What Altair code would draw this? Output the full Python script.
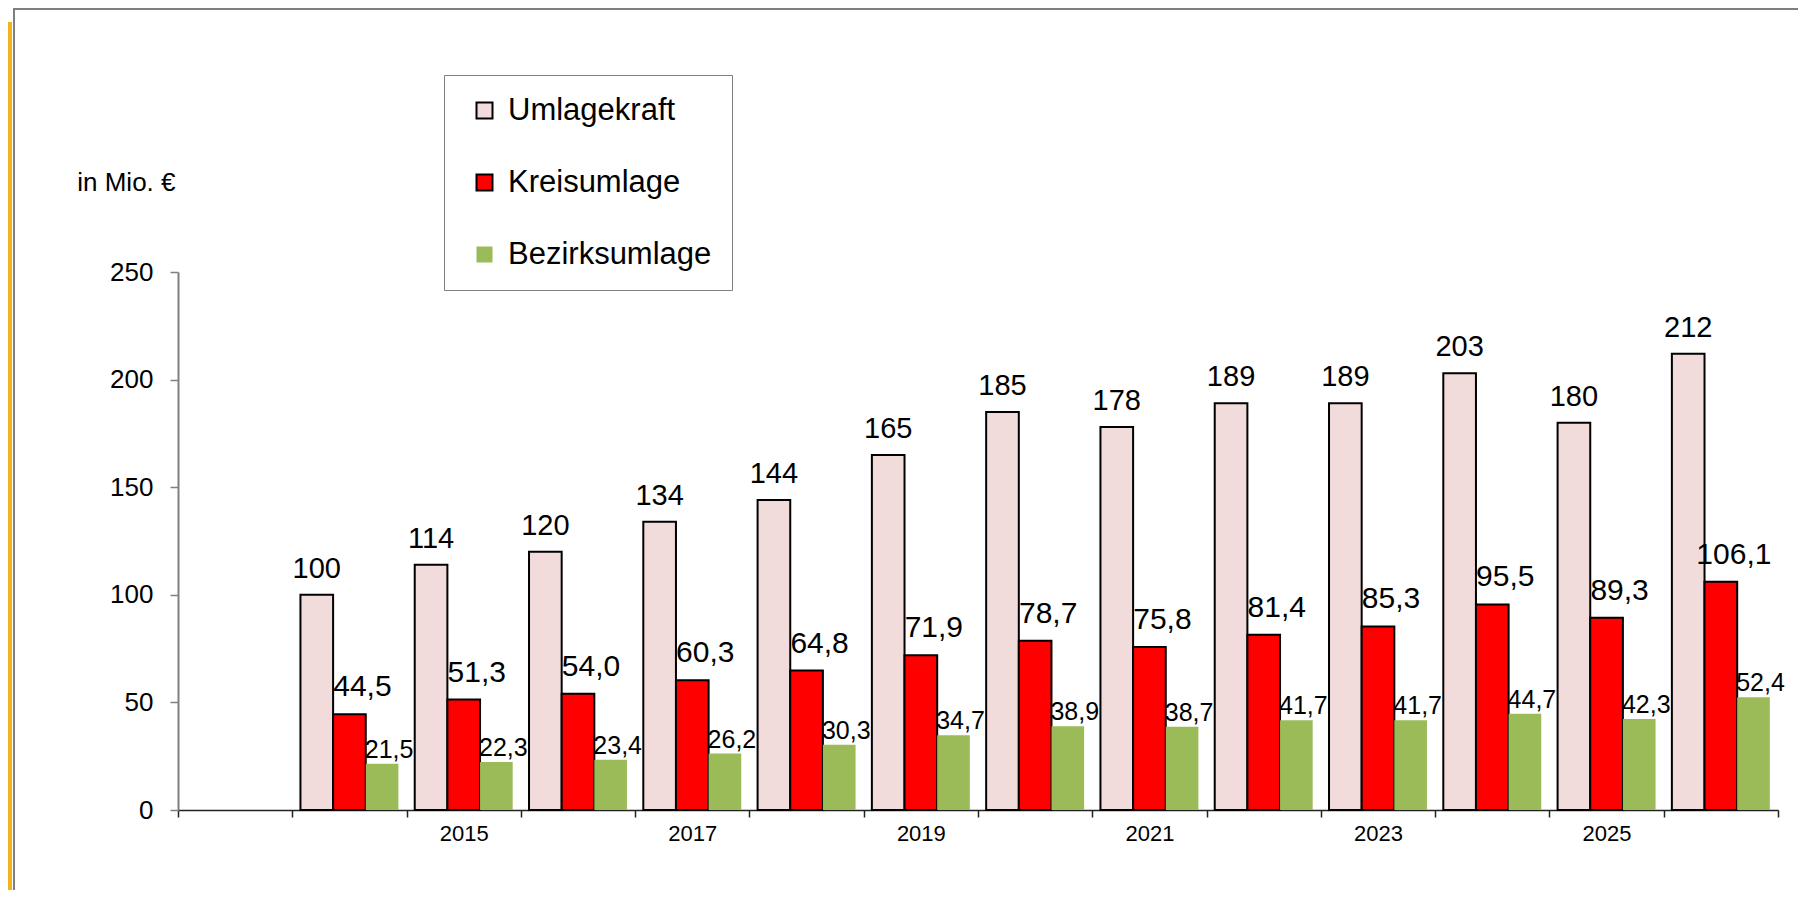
import altair as alt
import pandas as pd

# ---- data ----
slots = ["2013", "2014", "2015", "2016", "2017", "2018", "2019", "2020",
         "2021", "2022", "2023", "2024", "2025", "2026"]
years = ["2014", "2015", "2016", "2017", "2018", "2019", "2020",
         "2021", "2022", "2023", "2024", "2025", "2026"]
series = ["Umlagekraft", "Kreisumlage", "Bezirksumlage"]
umlagekraft = [100, 114, 120, 134, 144, 165, 185, 178, 189, 189, 203, 180, 212]
kreisumlage = [44.5, 51.3, 54.0, 60.3, 64.8, 71.9, 78.7, 75.8, 81.4, 85.3, 95.5, 89.3, 106.1]
bezirksumlage = [21.5, 22.3, 23.4, 26.2, 30.3, 34.7, 38.9, 38.7, 41.7, 41.7, 44.7, 42.3, 52.4]
y_ticks = [0, 50, 100, 150, 200, 250]

colors = ["#F2DCDB", "#FF0000", "#9BBB59"]
strokes = ["#000000", "#000000", "transparent"]

rows = []
for name, vals in zip(series, [umlagekraft, kreisumlage, bezirksumlage]):
    for yr, v in zip(years, vals):
        rows.append({"Jahr": yr, "Reihe": name, "Wert": v})
df = pd.DataFrame(rows)

FONT = "Liberation Sans"

x_enc = alt.X("Jahr:N", scale=alt.Scale(domain=slots, paddingInner=0, paddingOuter=0),
              axis=alt.Axis(title=None, tickBand="extent", labelAngle=0,
                            labelExpr="(toNumber(datum.value) % 2 == 1 && datum.value != '2013') ? datum.value : ''",
                            labelFont=FONT, labelFontSize=22, labelColor="#000000",
                            labelPadding=6, tickSize=7, tickColor="#222222", tickWidth=1.5,
                            domainColor="#222222", domainWidth=1.5, grid=False))
xo_enc = alt.XOffset("Reihe:N", scale=alt.Scale(domain=series, paddingInner=0, paddingOuter=0.25))
y_enc = alt.Y("Wert:Q", scale=alt.Scale(domain=[0, 250], nice=False),
              axis=alt.Axis(values=y_ticks, title="in Mio. €", titleAngle=0, titleX=-3, titleY=-82,
                            titleAlign="right", titleBaseline="alphabetic", titleFont=FONT,
                            titleFontSize=26, titleFontWeight="normal", titleColor="#000000",
                            labelFont=FONT, labelFontSize=26, labelColor="#000000", labelPadding=17,
                            tickSize=8, tickColor="#808080", tickWidth=1.5,
                            domainColor="#808080", domainWidth=2, grid=False))

legend = alt.Legend(title=None, orient="none", legendX=266, legendY=-197,
                    strokeColor="#808080", fillColor="#FFFFFF", padding=20, rowPadding=40,
                    symbolOffset=5, symbolType="square", symbolSize=256, symbolStrokeWidth=2,
                    labelFont=FONT, labelFontSize=31, labelColor="#000000", labelOffset=8,
                    labelLimit=500)

base = alt.Chart(df)

bars = base.mark_bar(strokeWidth=2).encode(
    x=x_enc, xOffset=xo_enc, y=y_enc,
    fill=alt.Fill("Reihe:N", scale=alt.Scale(domain=series, range=colors), legend=legend),
    stroke=alt.Stroke("Reihe:N", scale=alt.Scale(domain=series, range=strokes), legend=legend),
)

def label_layer(name, fmt, size, dx, dy):
    return base.transform_filter(alt.datum.Reihe == name).transform_calculate(
        txt=f"replace(format(datum.Wert, '{fmt}'), '.', ',')"
    ).mark_text(font=FONT, fontSize=size, color="#000000", dx=dx, dy=dy,
                baseline="alphabetic", align="center").encode(
        x=alt.X("Jahr:N"), xOffset=alt.XOffset("Reihe:N"), y=alt.Y("Wert:Q"), text="txt:N")

lab1 = label_layer("Umlagekraft", ".0f", 29, 0, -17)
lab2 = label_layer("Kreisumlage", ".1f", 30, 13, -18)
lab3 = label_layer("Bezirksumlage", ".1f", 25, 7, -6)

deco = alt.Chart(pd.DataFrame({"k": [1]}))
orange = deco.mark_rule(color="#F5B11A", strokeWidth=4).encode(
    x=alt.value(-168), y=alt.value(-250), y2=alt.value(618))
gray_left = deco.mark_rule(color="#7F7F7F", strokeWidth=2).encode(
    x=alt.value(-164), y=alt.value(-263), y2=alt.value(618))
gray_top = deco.mark_rule(color="#7F7F7F", strokeWidth=2).encode(
    x=alt.value(-165), x2=alt.value(1630), y=alt.value(-263))

chart = alt.layer(orange, gray_left, gray_top, bars, lab1, lab2, lab3).properties(
    width=1600, height=538,
    background="#FFFFFF",
    autosize=alt.AutoSizeParams(type="none"),
    padding={"left": 170, "top": 264, "right": 20, "bottom": 80},
).configure_view(strokeWidth=0, stroke="transparent")

chart.save("out.html", embed_options={"renderer": "svg", "actions": False})
